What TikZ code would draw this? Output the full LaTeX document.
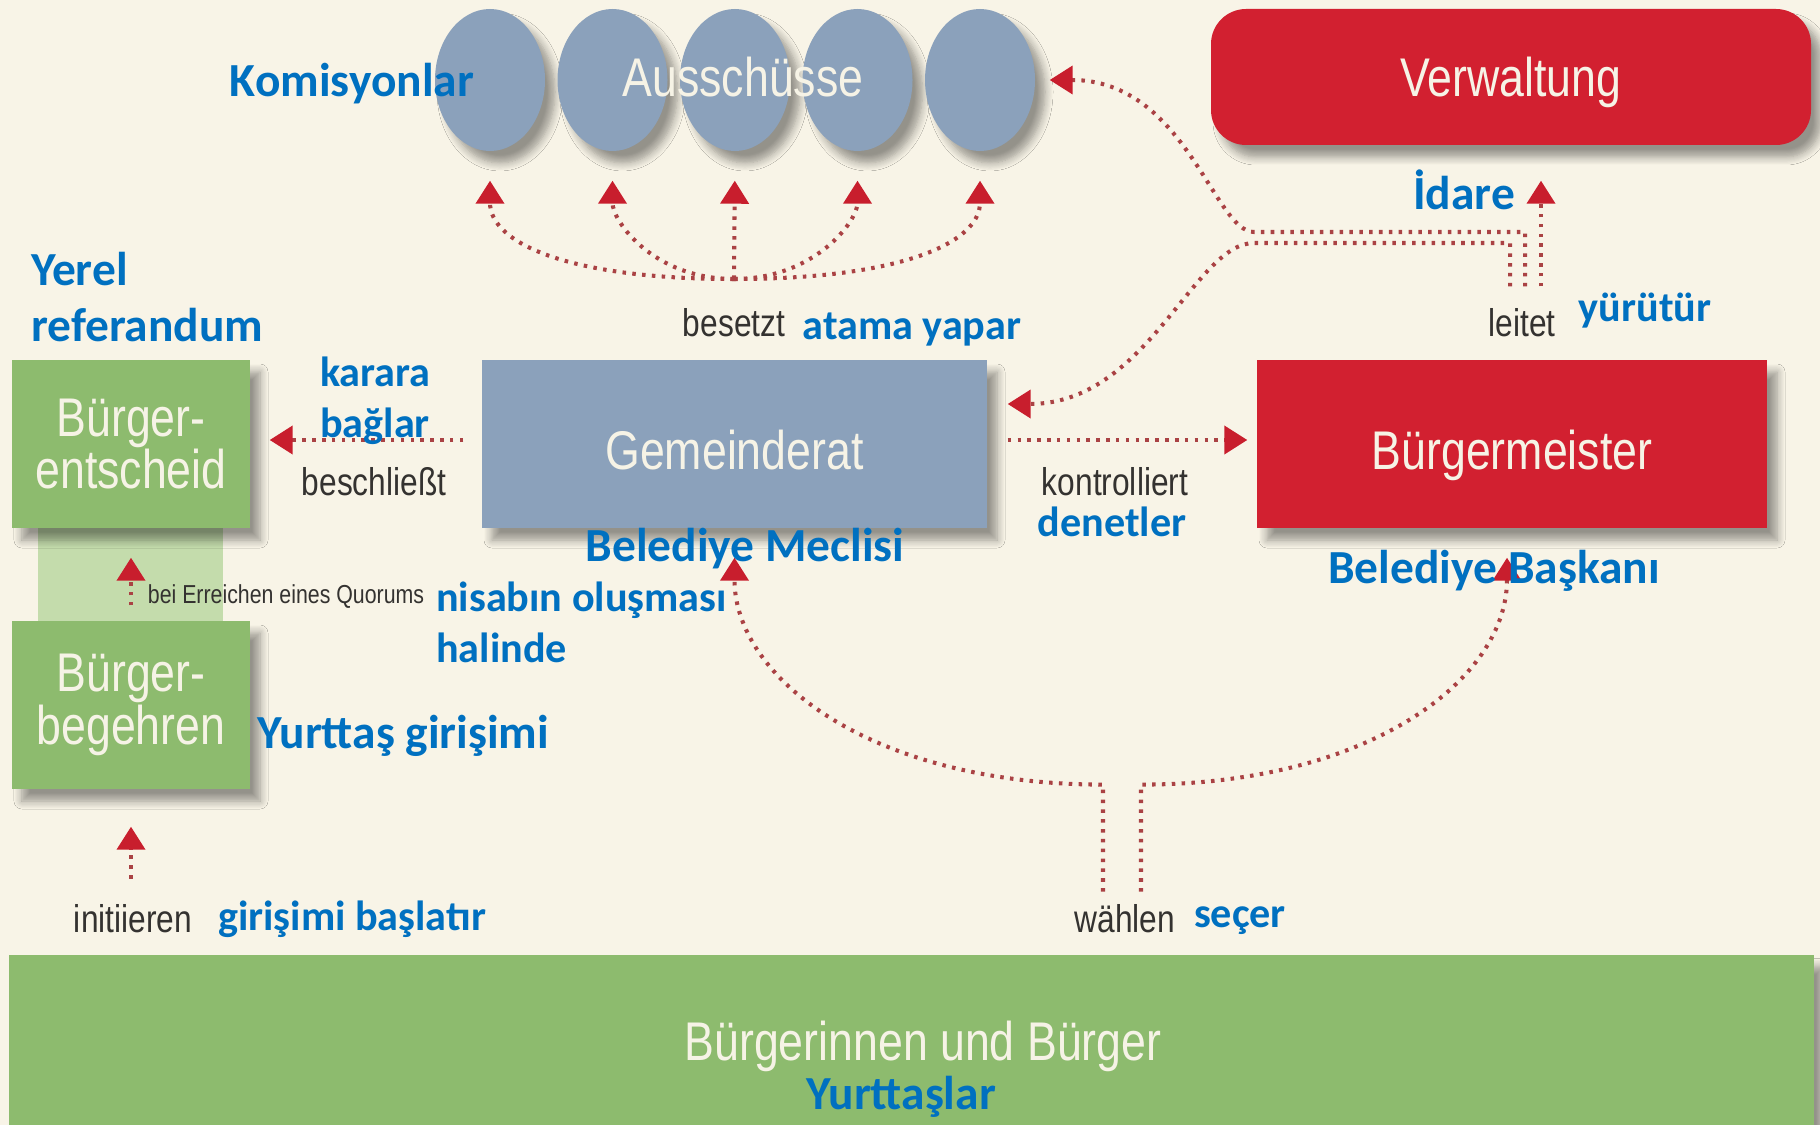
\documentclass[tikz,border=0pt]{standalone}
\usepackage{fontspec}
\usepackage{xcolor}
\usepackage{tikz}
\usetikzlibrary{arrows.meta,positioning,calc,shapes.geometric,shadows.blur}
\newfontfamily\defont{Liberation Sans}[FakeStretch=0.82]
\newfontfamily\trfont{Carlito}
\definecolor{bgcream}{RGB}{248,244,231}
\definecolor{boxgreen}{RGB}{141,187,110}
\definecolor{bandgreen}{RGB}{196,220,172}
\definecolor{boxblue}{RGB}{139,161,187}
\definecolor{boxred}{RGB}{210,32,48}
\definecolor{arrred}{RGB}{200,30,45}
\definecolor{dotred}{RGB}{170,66,68}
\definecolor{trblue}{RGB}{0,112,192}
\definecolor{detext}{RGB}{52,50,48}
\definecolor{wtext}{RGB}{246,243,230}
\tikzset{
  shd/.style={blur shadow={shadow xshift=1mm,shadow yshift=-1.2mm,shadow blur radius=0.8mm,shadow blur steps=8,shadow opacity=40}},
  boxG/.style={rectangle,fill=boxgreen,shd,minimum width=23.8mm,minimum height=16.8mm,inner sep=0pt},
  boxB/.style={rectangle,fill=boxblue,shd,minimum height=16.8mm,inner sep=0pt},
  boxR/.style={rectangle,fill=boxred,shd,minimum height=16.8mm,inner sep=0pt},
  komite/.style={ellipse,fill=boxblue,shd,minimum width=11mm,minimum height=14.2mm,inner sep=0pt},
  boxtxt/.style={text=wtext,font=\defont\fontsize{15.5}{15}\selectfont,align=center},
  boxone/.style={boxtxt,text depth=0pt},
  boxlow/.style={boxone,text height=14.5pt},
  delab/.style={text=detext,font=\defont\fontsize{11}{13}\selectfont,inner sep=1pt},
  trlab/.style={text=trblue,font=\trfont\bfseries\fontsize{13.5}{14.5}\selectfont,inner sep=1pt},
  trsm/.style={trlab,font=\trfont\bfseries\fontsize{12}{14.5}\selectfont},
  dotln/.style={dotred,line width=1.15pt,dash pattern=on 1pt off 1.8pt},
  dotarr/.style={dotln,-{Triangle[width=2.8mm,length=2.3mm,color=arrred]}},
}
\begin{document}
\begin{tikzpicture}[x=0.1mm,y=-0.1mm]
  \useasboundingbox (0,0) rectangle (1820,1125);
  \fill[bgcream] (0,0) rectangle (1820,1125);
  % Ausschuesse
  \foreach \i in {1,...,5}
    \node[komite] (a\i) at ({490+122.5*(\i-1)},80) {};
  \node[boxtxt] (auss) at ([xshift=0.8mm,yshift=0.3mm]a3) {Ausschüsse};
  % Organe
  \node[boxR,boxone,rounded corners=3.5mm,minimum width=60mm,minimum height=13.6mm] (verw) at (1511,77) {Verwaltung};
  \node[boxB,boxlow,minimum width=50.5mm] (gem) at (734.5,444) {Gemeinderat};
  \node[boxR,boxlow,minimum width=51mm] (bgm) at (1512,444) {Bürgermeister};
  \fill[bandgreen] (38,520) rectangle (223,630);
  \node[boxG,boxtxt] (entsch) at (131,444) {Bürger-\\entscheid};
  \node[boxG,boxtxt] (begehr) at (131,705) {Bürger-\\begehren};
  \node[boxG,minimum width=180.5mm,minimum height=17.1mm] (volk) at (911.5,1040) {};
  \node[boxone] (volktxt) at (923,1041) {Bürgerinnen und Bürger};
  % deutsche Beschriftungen
  \node[delab] (besetzt) at (734,323) {besetzt};
  \node[delab] (leitet) at (1522,323) {leitet};
  \node[delab] (beschl) at (374,482) {beschließt};
  \node[delab] (kontr) at (1115,482) {kontrolliert};
  \node[delab,font=\defont\fontsize{7.4}{9}\selectfont] (quorum) at (286,597) {bei Erreichen eines Quorums};
  \node[delab] (init) at (133,919) {initiieren};
  \node[delab] (waehlen) at (1125,919) {wählen};
  % besetzt
  \coordinate (hub) at (734,279);
  \draw[dotarr,shorten >=2.9mm] (hub) .. controls +(-170,0) and +(0,90) .. (a1.south);
  \draw[dotarr,shorten >=2.9mm] (hub) .. controls +(-80,0) and +(0,70) .. (a2.south);
  \draw[dotarr,shorten >=2.9mm] (hub) -- (a3.south);
  \draw[dotarr,shorten >=2.9mm] (hub) .. controls +(80,0) and +(0,70) .. (a4.south);
  \draw[dotarr,shorten >=2.9mm] (hub) .. controls +(170,0) and +(0,90) .. (a5.south);
  % leitet
  \coordinate (knA) at (1254,232);
  \coordinate (knB) at (1254,243);
  \draw[dotarr,shorten >=3.5mm] ([xshift=2.9mm,yshift=7.3mm]bgm.north) -- ([xshift=3mm]verw.south);
  \draw[dotarr,shorten >=1.4mm] ([xshift=1.3mm,yshift=7.3mm]bgm.north) |- (knA)
    .. controls +(-40,0) and +(150,0) .. (a5.east);
  \draw[dotarr,shorten >=2mm] ([xshift=-0.2mm,yshift=7.3mm]bgm.north) |- (knB)
    .. controls +(-60,0) and +(160,0) .. ([yshift=4mm]gem.east);
  % kontrolliert, beschliesst
  \draw[dotarr,shorten <=2mm,shorten >=0.9mm] ([yshift=0.4mm]gem.east) -- ([yshift=0.4mm]bgm.west);
  \draw[dotarr,shorten <=1.8mm,shorten >=1.9mm] ([yshift=0.4mm]gem.west) -- ([yshift=0.4mm]entsch.east);
  % Quorum, initiieren
  \draw[dotarr,shorten <=1.5mm,shorten >=2.9mm] (begehr.north) -- (entsch.south);
  \draw[dotarr,shorten <=2.2mm,shorten >=3.7mm] (begehr.south |- init.north) -- (begehr.south);
  % waehlen
  \draw[dotarr,shorten <=0.9mm,shorten >=2.9mm] ([xshift=-2.2mm]waehlen.north) -- ++(0,-116)
    .. controls +(-230,0) and +(0,150) .. (gem.south);
  \draw[dotarr,shorten <=0.9mm,shorten >=2.9mm] ([xshift=1.6mm]waehlen.north) -- ++(0,-116)
    .. controls +(230,0) and +(0,150) .. ([xshift=-0.5mm]bgm.south);
  % tuerkische Beschriftungen
  \node[trlab] (komis) at (352,84) {Komisyonlar};
  \node[trlab,align=left,anchor=west] (yerel) at (27,297) {Yerel\\[1.5pt]referandum};
  \node[trsm,align=left,anchor=west] (karara) at (316,401) {karara\\bağlar};
  \node[trlab,anchor=west] (yurttas) at (253,736) {Yurttaş girişimi};
  \node[trlab] (meclis) at (745,549) {Belediye Meclisi};
  \node[trlab] (baskan) at (1494,571) {Belediye Başkanı};
  \node[trsm] (atama) at (912,330) {atama yapar};
  \node[trlab] (idare) at (1464,190) {İdare};
  \node[trsm] (yurutur) at (1645,311) {yürütür};
  \node[trsm] (denet) at (1112,522) {denetler};
  \node[trsm,align=left,anchor=west] (nisab) at (432,622) {nisabın oluşması\\halinde};
  \node[trsm] (girisim) at (352,919) {girişimi başlatır};
  \node[trsm] (secer) at (1240,921) {seçer};
  \node[trlab] (yurttaslar) at (901,1097) {Yurttaşlar};
\end{tikzpicture}
\end{document}
